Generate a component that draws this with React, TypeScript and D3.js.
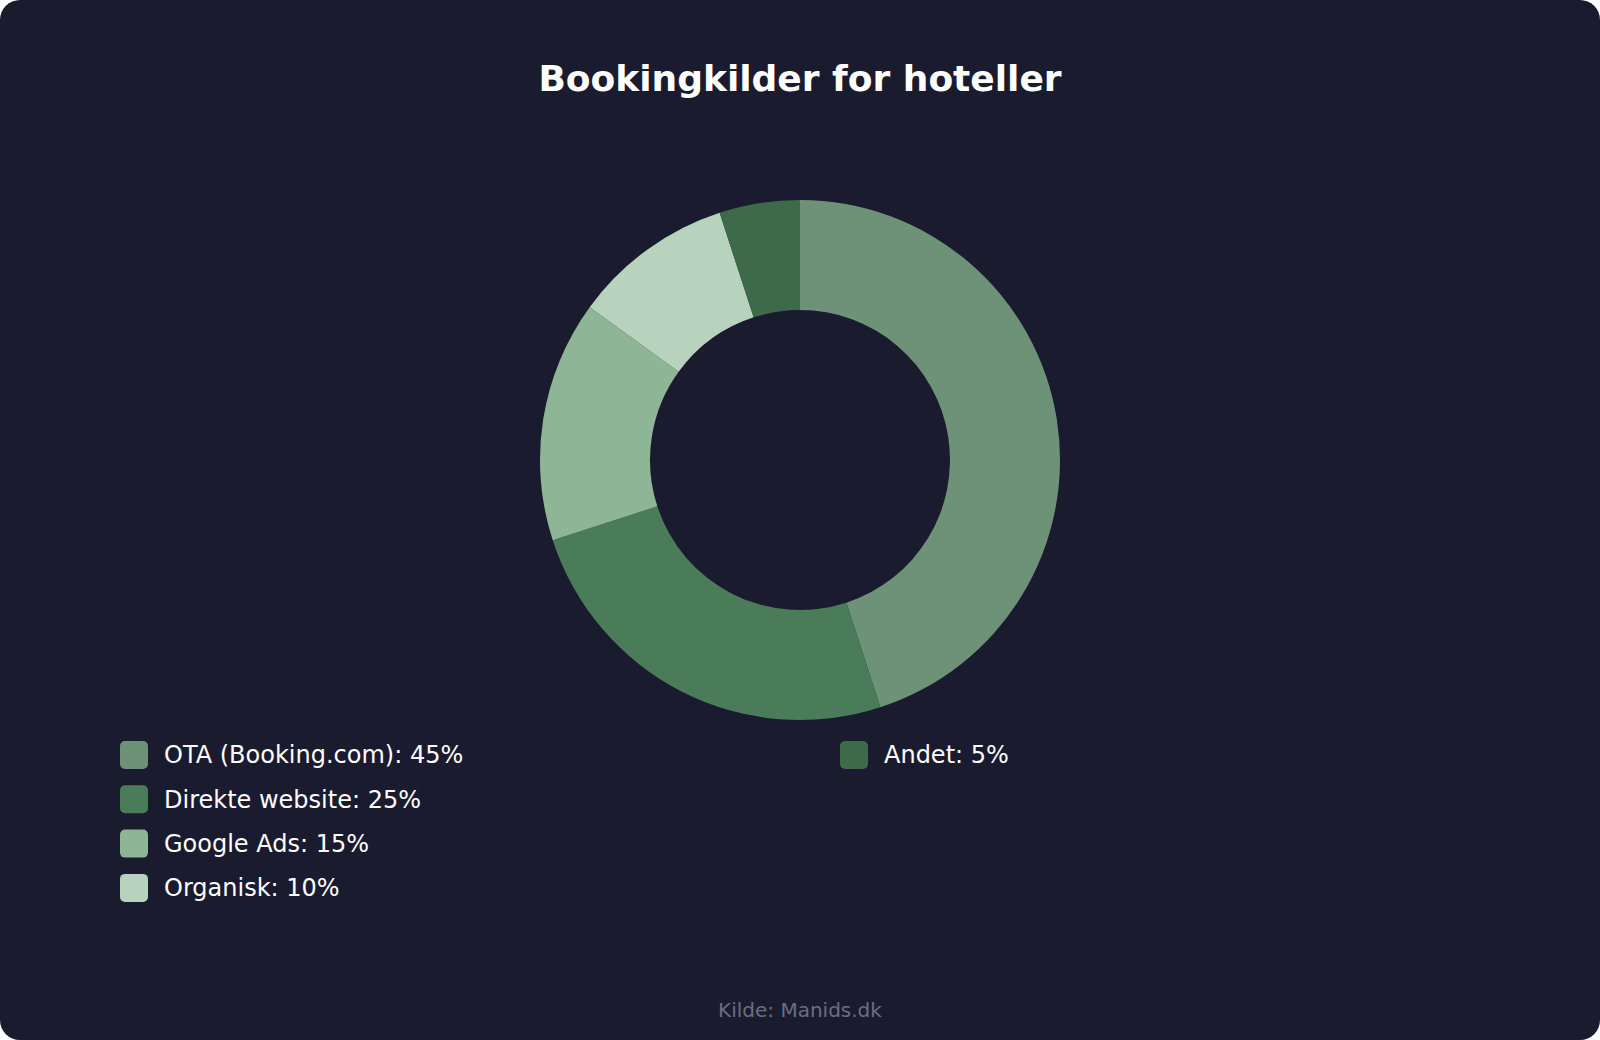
import React from 'react';
import * as d3 from 'd3';

const categories = ['OTA (Booking.com)', 'Direkte website', 'Google Ads', 'Organisk', 'Andet'];
const shares = [45, 25, 15, 10, 5];
const colors = ['#6e9278', '#4a7c59', '#8db596', '#b7d3be', '#3d6b4a'];

const W = 1600;
const H = 1040;
const FONT = '"DejaVu Sans", Verdana, sans-serif';

interface Slice {
  name: string;
  value: number;
  color: string;
}

const App: React.FC = () => {
  const data: Slice[] = categories.map((name, i) => ({ name, value: shares[i], color: colors[i] }));

  const cx = 800;
  const cy = 460;
  const outer = 260;
  const inner = 150;

  const pie = d3.pie<Slice>().value(d => d.value).sort(null);
  const arc = d3.arc<d3.PieArcDatum<Slice>>().innerRadius(inner).outerRadius(outer);

  // legend: 4 rows per column, columns 720px apart
  const rowY = d3.scaleLinear().domain([0, 1]).range([755, 799.3]);
  const perCol = 4;

  return (
    <svg width={W} height={H} style={{ display: 'block', position: 'absolute', left: 0, top: 0 }}>
      <rect x={0} y={0} width={W} height={H} rx={20} ry={20} fill="#1b1b2f" />
      <text x={800} y={91} textAnchor="middle" fontFamily={FONT} fontSize={36} fontWeight="bold" fill="#ffffff">
        Bookingkilder for hoteller
      </text>

      <g transform={`translate(${cx},${cy})`}>
        {pie(data).map(d => (
          <path key={d.data.name} d={arc(d) || ''} fill={d.data.color} />
        ))}
      </g>

      <g>
        {data.map((d, i) => {
          const col = Math.floor(i / perCol);
          const row = i % perCol;
          const x = 120 + col * 720;
          const y = rowY(row);
          return (
            <g key={d.name} transform={`translate(${x},${y})`}>
              <rect x={0} y={-14} width={28} height={28} rx={5} ry={5} fill={d.color} />
              <text x={44} y={0} dy="0.35em" fontFamily={FONT} fontSize={24} fill="#ffffff">
                {`${d.name}: ${d.value}%`}
              </text>
            </g>
          );
        })}
      </g>

      <text x={800} y={1017} textAnchor="middle" fontFamily={FONT} fontSize={20} fill="#6b6e80">
        Kilde: Manids.dk
      </text>
    </svg>
  );
};

export default App;
